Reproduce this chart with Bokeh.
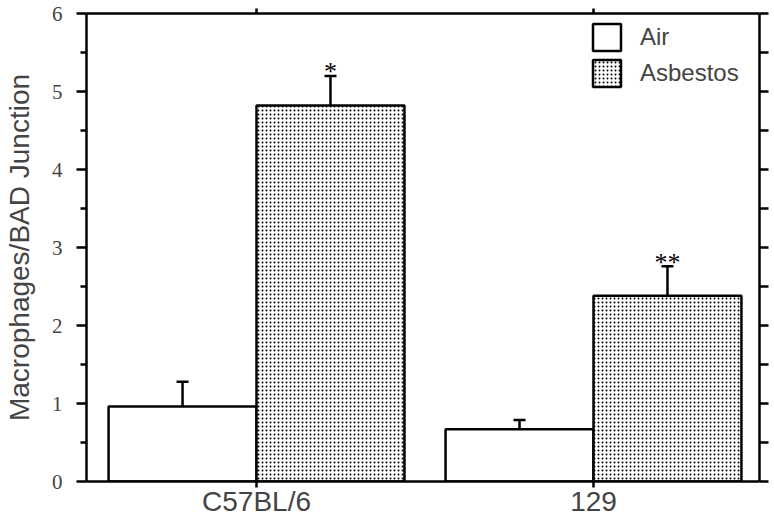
from bokeh.plotting import figure
from bokeh.models import (ColumnDataSource, Range1d, LinearAxis, FixedTicker,
                          Whisker, TeeHead, Legend, LegendItem)
from bokeh.core.properties import value
from bokeh.embed import file_html
from bokeh.resources import INLINE

# ---- data ----
strains = ["C57BL/6", "129"]
air_mean = [0.96, 0.67]
air_err = [0.32, 0.12]
asb_mean = [4.82, 2.38]
asb_err = [0.38, 0.38]
asb_sig = ["*", "**"]
y_ticks = [0, 1, 2, 3, 4, 5, 6]
y_minor = [0.5, 1.5, 2.5, 3.5, 4.5, 5.5]
y_right_ticks = [0, 0.5, 1, 1.5, 2, 2.5, 3, 3.5, 4, 4.5, 5, 5.5, 6]

# ---- layout constants ----
bar_w = 0.439
xpos = [i + 1 for i in range(len(strains))]
air_x = [x - bar_w / 2 for x in xpos]
asb_x = [x + bar_w / 2 for x in xpos]

air_src = ColumnDataSource(dict(x=air_x, mean=air_mean,
                                upper=[m + e for m, e in zip(air_mean, air_err)]))
asb_src = ColumnDataSource(dict(x=asb_x, mean=asb_mean,
                                upper=[m + e for m, e in zip(asb_mean, asb_err)],
                                sig=asb_sig))

p = figure(frame_width=673, frame_height=468,
           x_range=Range1d(0.4955, 2.4926), y_range=Range1d(0, 6),
           output_backend="svg", toolbar_location=None,
           min_border_left=84, min_border_top=13, min_border_right=12,
           min_border_bottom=30, background_fill_color="white",
           border_fill_color="white")
p.outline_line_color = None
p.xgrid.visible = False
p.ygrid.visible = False

LW = 2.5
sans = "Liberation Sans"
serif = "Liberation Serif"

r_air = p.vbar(x="x", top="mean", bottom=0, width=bar_w, source=air_src,
               fill_color="white", line_color="black", line_width=LW)
r_asb = p.vbar(x="x", top="mean", bottom=0, width=bar_w, source=asb_src,
               fill_color="white", line_color="black", line_width=LW,
               hatch_pattern="dot", hatch_scale=4, hatch_weight=2.5,
               hatch_color="black")

for src in (air_src, asb_src):
    w = Whisker(source=src, base="x", lower="mean", upper="upper",
                dimension="height", line_width=LW, line_color="black",
                lower_head=None,
                upper_head=TeeHead(size=12, line_width=LW, line_color="black"))
    p.add_layout(w)

p.text(x="x", y="upper", text="sig", source=asb_src,
       text_font=value(serif), text_font_size="26px", text_align="center",
       text_baseline="alphabetic", y_offset=-4, text_color="black")

# bottom axis
xa = p.xaxis[0]
xa.ticker = FixedTicker(ticks=xpos)
xa.major_label_overrides = {x: s for x, s in zip(xpos, strains)}
xa.major_label_text_font = sans
xa.major_label_text_font_size = "28px"
xa.major_label_standoff = -2
xa.major_tick_in = 0
xa.major_tick_out = 6
xa.minor_tick_out = 0
xa.minor_tick_in = 0
xa.axis_line_width = LW
xa.major_tick_line_width = LW

# left axis
ya = p.yaxis[0]
ya.ticker = FixedTicker(ticks=y_ticks, minor_ticks=y_minor)
ya.major_label_text_font = serif
ya.major_label_text_font_size = "21px"
ya.major_label_standoff = 14
ya.major_tick_in = 0
ya.major_tick_out = 10
ya.minor_tick_in = 0
ya.minor_tick_out = 6
ya.axis_line_width = LW
ya.major_tick_line_width = LW
ya.minor_tick_line_width = LW
ya.axis_label = "Macrophages/BAD Junction"
ya.axis_label_text_font = sans
ya.axis_label_text_font_size = "28px"
ya.axis_label_text_font_style = "normal"
ya.axis_label_standoff = 14

# top axis
ta = LinearAxis(ticker=FixedTicker(ticks=xpos), major_label_text_font_size="0px",
                major_label_standoff=0, major_tick_in=0, major_tick_out=5,
                minor_tick_in=0, minor_tick_out=0, axis_line_width=LW,
                major_tick_line_width=LW)
ta.major_label_overrides = {x: "" for x in xpos}
p.add_layout(ta, "above")

# right axis
ra = LinearAxis(ticker=FixedTicker(ticks=y_right_ticks), major_label_text_font_size="0px",
                major_label_standoff=0, major_tick_in=0, major_tick_out=9,
                minor_tick_in=0, minor_tick_out=0, axis_line_width=LW,
                major_tick_line_width=LW)
ra.major_label_overrides = {t: "" for t in y_right_ticks}
p.add_layout(ra, "right")

legend = Legend(items=[LegendItem(label="Air", renderers=[r_air]),
                       LegendItem(label="Asbestos", renderers=[r_asb])],
                location=(503, 391), glyph_width=35, glyph_height=34,
                label_standoff=16, spacing=2, padding=0, margin=0,
                border_line_color=None, background_fill_alpha=0,
                label_text_font=sans, label_text_font_size="24px",
                label_height=34)
p.add_layout(legend)

open("out.html", "w").write(file_html(p, INLINE))
